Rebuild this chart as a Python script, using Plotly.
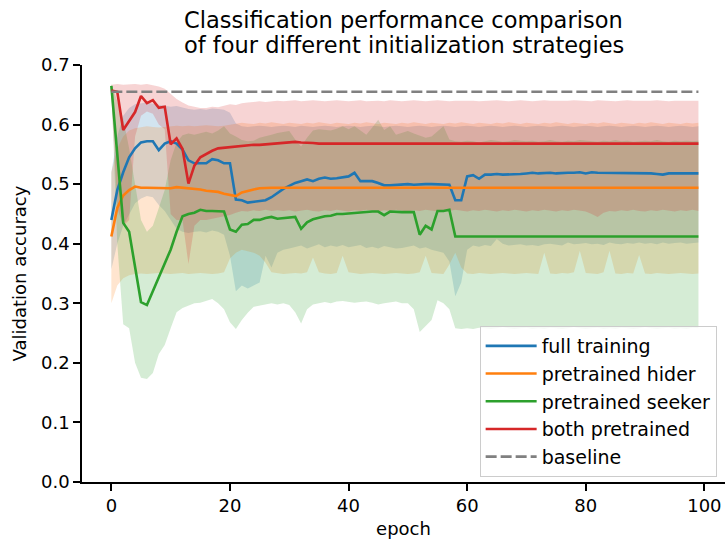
import plotly.graph_objects as go

# ---- data -----------------------------------------------------------------
epochs = list(range(100))

full_mean = [
    0.440, 0.490, 0.520, 0.545, 0.560, 0.570, 0.572, 0.572, 0.557, 0.568,
    0.572, 0.568, 0.558, 0.540, 0.535, 0.535, 0.535, 0.542, 0.540, 0.535,
    0.535, 0.474, 0.473, 0.469, 0.470, 0.471, 0.473, 0.478, 0.485, 0.492,
    0.497, 0.502, 0.505, 0.508, 0.505, 0.509, 0.511, 0.509, 0.510, 0.511,
    0.513, 0.519, 0.505, 0.505, 0.505, 0.502, 0.498, 0.498, 0.499, 0.499,
    0.500, 0.499, 0.500, 0.500, 0.500, 0.500, 0.500, 0.499, 0.473, 0.473,
    0.513, 0.515, 0.509, 0.516, 0.516, 0.517, 0.516, 0.516, 0.516, 0.517,
    0.518, 0.519, 0.518, 0.519, 0.519, 0.518, 0.519, 0.519, 0.519, 0.520,
    0.518, 0.520, 0.519, 0.519, 0.518, 0.518, 0.518, 0.519, 0.519, 0.518,
    0.518, 0.518, 0.517, 0.516, 0.518, 0.518, 0.518, 0.518, 0.518, 0.518,
]
full_hi = [
    0.520, 0.580, 0.615, 0.628, 0.634, 0.636, 0.637, 0.635, 0.633, 0.632,
    0.630, 0.631, 0.628, 0.626, 0.625, 0.626, 0.625, 0.627, 0.626, 0.625,
    0.620, 0.602, 0.597, 0.596, 0.597, 0.598, 0.597, 0.596, 0.597, 0.598,
    0.597, 0.596, 0.598, 0.597, 0.596, 0.597, 0.598, 0.597, 0.596, 0.597,
    0.598, 0.597, 0.596, 0.597, 0.598, 0.597, 0.596, 0.597, 0.598, 0.597,
    0.596, 0.597, 0.598, 0.597, 0.596, 0.597, 0.598, 0.597, 0.596, 0.597,
    0.598, 0.597, 0.596, 0.597, 0.598, 0.597, 0.596, 0.597, 0.598, 0.597,
    0.596, 0.597, 0.598, 0.597, 0.596, 0.597, 0.598, 0.597, 0.596, 0.597,
    0.598, 0.597, 0.596, 0.597, 0.598, 0.597, 0.596, 0.597, 0.598, 0.597,
    0.596, 0.597, 0.598, 0.597, 0.596, 0.597, 0.598, 0.597, 0.596, 0.597,
]
full_lo = [
    0.357, 0.400, 0.430, 0.450, 0.468, 0.476, 0.480, 0.478, 0.465, 0.455,
    0.440, 0.425, 0.420, 0.418, 0.420, 0.421, 0.419, 0.422, 0.420, 0.415,
    0.380, 0.320, 0.330, 0.325, 0.330, 0.335, 0.380, 0.360, 0.385, 0.390,
    0.392, 0.395, 0.397, 0.392, 0.396, 0.399, 0.394, 0.397, 0.395, 0.398,
    0.394, 0.396, 0.398, 0.393, 0.395, 0.392, 0.396, 0.394, 0.392, 0.393,
    0.395, 0.397, 0.392, 0.394, 0.390, 0.388, 0.385, 0.370, 0.312, 0.335,
    0.390, 0.397, 0.395, 0.398, 0.396, 0.408, 0.400, 0.397, 0.398, 0.399,
    0.397, 0.398, 0.396, 0.399, 0.400, 0.398, 0.397, 0.402, 0.399, 0.400,
    0.401, 0.399, 0.400, 0.398, 0.402, 0.400, 0.399, 0.401, 0.400, 0.402,
    0.400, 0.401, 0.399, 0.402, 0.400, 0.401, 0.402, 0.400, 0.401, 0.402,
]

hider_mean = [
    0.412, 0.460, 0.481, 0.490, 0.496, 0.494, 0.494, 0.494, 0.494, 0.494,
    0.493, 0.495, 0.494, 0.493, 0.493, 0.491, 0.489, 0.488, 0.487, 0.484,
    0.482, 0.480, 0.486, 0.489, 0.491, 0.493, 0.494, 0.494, 0.494, 0.494,
    0.494, 0.494, 0.494, 0.494, 0.494, 0.494, 0.494, 0.494, 0.494, 0.494,
    0.494, 0.494, 0.494, 0.494, 0.494, 0.494, 0.494, 0.494, 0.494, 0.494,
    0.494, 0.494, 0.494, 0.494, 0.494, 0.494, 0.494, 0.494, 0.494, 0.494,
    0.494, 0.494, 0.494, 0.494, 0.494, 0.494, 0.494, 0.494, 0.494, 0.494,
    0.494, 0.494, 0.494, 0.494, 0.494, 0.494, 0.494, 0.494, 0.494, 0.494,
    0.494, 0.494, 0.494, 0.494, 0.494, 0.494, 0.494, 0.494, 0.494, 0.494,
    0.494, 0.494, 0.494, 0.494, 0.494, 0.494, 0.494, 0.494, 0.494, 0.494,
]
hider_hi = [
    0.520, 0.560, 0.580, 0.590, 0.594, 0.596, 0.597, 0.596, 0.595, 0.596,
    0.597, 0.598, 0.597, 0.598, 0.597, 0.598, 0.599, 0.598, 0.597, 0.598,
    0.600, 0.602, 0.603, 0.602, 0.601, 0.603, 0.602, 0.604, 0.602, 0.601,
    0.603, 0.602, 0.601, 0.603, 0.602, 0.604, 0.602, 0.601, 0.603, 0.602,
    0.601, 0.603, 0.602, 0.604, 0.602, 0.601, 0.603, 0.602, 0.601, 0.603,
    0.602, 0.604, 0.602, 0.601, 0.603, 0.602, 0.601, 0.603, 0.602, 0.604,
    0.602, 0.601, 0.603, 0.602, 0.601, 0.603, 0.602, 0.604, 0.602, 0.601,
    0.603, 0.602, 0.601, 0.603, 0.602, 0.604, 0.602, 0.601, 0.603, 0.602,
    0.601, 0.603, 0.602, 0.604, 0.602, 0.601, 0.603, 0.602, 0.601, 0.603,
    0.602, 0.604, 0.602, 0.601, 0.603, 0.602, 0.601, 0.603, 0.602, 0.603,
]
hider_lo = [
    0.300, 0.330, 0.342, 0.347, 0.349, 0.350, 0.349, 0.350, 0.351, 0.350,
    0.349, 0.350, 0.351, 0.349, 0.350, 0.351, 0.350, 0.349, 0.350, 0.352,
    0.375, 0.385, 0.390, 0.388, 0.385, 0.380, 0.368, 0.352, 0.350, 0.349,
    0.350, 0.351, 0.350, 0.352, 0.377, 0.352, 0.350, 0.349, 0.351, 0.380,
    0.352, 0.350, 0.349, 0.350, 0.351, 0.350, 0.349, 0.350, 0.351, 0.350,
    0.349, 0.350, 0.352, 0.380, 0.351, 0.350, 0.349, 0.365, 0.385, 0.360,
    0.350, 0.349, 0.351, 0.350, 0.349, 0.350, 0.351, 0.350, 0.349, 0.350,
    0.351, 0.350, 0.349, 0.385, 0.350, 0.349, 0.351, 0.350, 0.352, 0.388,
    0.351, 0.350, 0.349, 0.352, 0.388, 0.350, 0.349, 0.351, 0.350, 0.381,
    0.350, 0.349, 0.351, 0.350, 0.349, 0.350, 0.351, 0.350, 0.349, 0.350,
]

seeker_mean = [
    0.665, 0.550, 0.435, 0.420, 0.360, 0.302, 0.297, 0.320, 0.344, 0.368,
    0.390, 0.420, 0.446, 0.450, 0.452, 0.457, 0.455, 0.455, 0.455, 0.454,
    0.424, 0.420, 0.432, 0.433, 0.440, 0.440, 0.443, 0.445, 0.442, 0.443,
    0.445, 0.445, 0.425, 0.436, 0.441, 0.444, 0.446, 0.447, 0.450, 0.450,
    0.451, 0.452, 0.453, 0.453, 0.454, 0.454, 0.448, 0.454, 0.453, 0.453,
    0.453, 0.453, 0.415, 0.430, 0.424, 0.455, 0.455, 0.457, 0.412, 0.412,
    0.412, 0.412, 0.412, 0.412, 0.411, 0.412, 0.412, 0.412, 0.412, 0.412,
    0.412, 0.412, 0.412, 0.412, 0.412, 0.412, 0.412, 0.412, 0.412, 0.412,
    0.412, 0.412, 0.412, 0.412, 0.412, 0.412, 0.412, 0.412, 0.412, 0.412,
    0.412, 0.412, 0.412, 0.412, 0.412, 0.412, 0.412, 0.412, 0.412, 0.412,
]
seeker_hi = [
    0.668, 0.640, 0.610, 0.560, 0.500, 0.440, 0.420, 0.430, 0.460, 0.490,
    0.540, 0.570, 0.582, 0.585, 0.583, 0.586, 0.588, 0.585, 0.590, 0.597,
    0.585, 0.580, 0.574, 0.572, 0.573, 0.578, 0.580, 0.583, 0.586, 0.588,
    0.589, 0.575, 0.563, 0.578, 0.590, 0.592, 0.591, 0.590, 0.593, 0.597,
    0.592, 0.597, 0.590, 0.583, 0.595, 0.608, 0.591, 0.597, 0.583, 0.586,
    0.589, 0.585, 0.581, 0.578, 0.580, 0.588, 0.597, 0.575, 0.572, 0.571,
    0.573, 0.572, 0.570, 0.572, 0.574, 0.573, 0.571, 0.572, 0.574, 0.573,
    0.572, 0.573, 0.571, 0.572, 0.574, 0.572, 0.571, 0.573, 0.572, 0.574,
    0.573, 0.572, 0.571, 0.573, 0.572, 0.574, 0.572, 0.573, 0.571, 0.572,
    0.573, 0.572, 0.574, 0.572, 0.571, 0.573, 0.572, 0.573, 0.572, 0.573,
]
seeker_lo = [
    0.662, 0.400, 0.265, 0.258, 0.200, 0.175, 0.173, 0.183, 0.215, 0.230,
    0.258, 0.285, 0.292, 0.296, 0.300, 0.301, 0.304, 0.307, 0.300, 0.290,
    0.268, 0.257, 0.272, 0.284, 0.294, 0.296, 0.298, 0.300, 0.298, 0.300,
    0.297, 0.285, 0.266, 0.290, 0.298, 0.300, 0.302, 0.300, 0.303, 0.304,
    0.303, 0.301, 0.302, 0.303, 0.301, 0.298, 0.300, 0.302, 0.303, 0.300,
    0.300, 0.290, 0.252, 0.262, 0.272, 0.305, 0.300, 0.290, 0.258, 0.257,
    0.258, 0.257, 0.259, 0.258, 0.257, 0.258, 0.260, 0.258, 0.257, 0.258,
    0.259, 0.257, 0.258, 0.257, 0.259, 0.258, 0.257, 0.258, 0.260, 0.258,
    0.257, 0.258, 0.259, 0.257, 0.258, 0.257, 0.259, 0.258, 0.257, 0.258,
    0.260, 0.258, 0.257, 0.258, 0.259, 0.257, 0.258, 0.257, 0.259, 0.258,
]

both_mean = [
    0.657, 0.655, 0.591, 0.605, 0.621, 0.648, 0.636, 0.641, 0.628, 0.630,
    0.567, 0.577, 0.559, 0.501, 0.531, 0.545, 0.551, 0.556, 0.560, 0.561,
    0.562, 0.563, 0.565, 0.565, 0.566, 0.566, 0.567, 0.568, 0.568, 0.569,
    0.571, 0.571, 0.570, 0.570, 0.569, 0.568, 0.568, 0.568, 0.568, 0.568,
    0.568, 0.568, 0.568, 0.568, 0.568, 0.568, 0.568, 0.568, 0.568, 0.568,
    0.568, 0.568, 0.568, 0.568, 0.568, 0.568, 0.568, 0.568, 0.568, 0.568,
    0.568, 0.568, 0.568, 0.568, 0.568, 0.568, 0.568, 0.568, 0.568, 0.568,
    0.568, 0.568, 0.568, 0.568, 0.568, 0.568, 0.568, 0.568, 0.568, 0.568,
    0.568, 0.568, 0.568, 0.568, 0.568, 0.568, 0.568, 0.568, 0.568, 0.568,
    0.568, 0.568, 0.568, 0.568, 0.568, 0.568, 0.568, 0.568, 0.568, 0.568,
]
both_hi = [
    0.667, 0.668, 0.667, 0.668, 0.668, 0.667, 0.668, 0.666, 0.664, 0.660,
    0.652, 0.643, 0.637, 0.632, 0.630, 0.628, 0.628, 0.630, 0.629, 0.632,
    0.634, 0.633, 0.636, 0.637, 0.638, 0.639, 0.638, 0.639, 0.640, 0.639,
    0.640, 0.641, 0.639, 0.640, 0.641, 0.640, 0.639, 0.640, 0.641, 0.640,
    0.639, 0.640, 0.641, 0.639, 0.640, 0.640, 0.639, 0.641, 0.640, 0.639,
    0.640, 0.641, 0.640, 0.639, 0.640, 0.641, 0.640, 0.639, 0.640, 0.640,
    0.641, 0.640, 0.639, 0.640, 0.640, 0.641, 0.640, 0.639, 0.640, 0.641,
    0.640, 0.639, 0.640, 0.641, 0.640, 0.640, 0.639, 0.640, 0.641, 0.640,
    0.640, 0.639, 0.641, 0.640, 0.640, 0.639, 0.640, 0.641, 0.640, 0.640,
    0.639, 0.640, 0.641, 0.640, 0.639, 0.640, 0.640, 0.641, 0.640, 0.640,
]
both_lo = [
    0.648, 0.460, 0.430, 0.440, 0.580, 0.615, 0.622, 0.618, 0.600, 0.592,
    0.450, 0.440, 0.440, 0.366, 0.430, 0.440, 0.440, 0.442, 0.443, 0.445,
    0.448, 0.452, 0.455, 0.454, 0.456, 0.455, 0.457, 0.455, 0.456, 0.455,
    0.456, 0.454, 0.455, 0.457, 0.455, 0.454, 0.456, 0.455, 0.457, 0.455,
    0.454, 0.456, 0.455, 0.457, 0.455, 0.454, 0.456, 0.455, 0.457, 0.455,
    0.454, 0.456, 0.455, 0.457, 0.455, 0.454, 0.456, 0.455, 0.457, 0.455,
    0.454, 0.456, 0.455, 0.457, 0.455, 0.454, 0.456, 0.455, 0.457, 0.455,
    0.454, 0.456, 0.455, 0.457, 0.455, 0.454, 0.456, 0.455, 0.457, 0.455,
    0.454, 0.450, 0.445, 0.452, 0.455, 0.454, 0.456, 0.455, 0.457, 0.455,
    0.454, 0.456, 0.455, 0.457, 0.455, 0.454, 0.456, 0.455, 0.457, 0.455,
]

baseline_value = 0.655

title_lines = [
    "Classification performance comparison",
    "of four different initialization strategies",
]

series = [
    ("full training", full_mean, full_lo, full_hi, (31, 119, 180)),
    ("pretrained hider", hider_mean, hider_lo, hider_hi, (255, 127, 14)),
    ("pretrained seeker", seeker_mean, seeker_lo, seeker_hi, (44, 160, 44)),
    ("both pretrained", both_mean, both_lo, both_hi, (214, 39, 40)),
]

FONT = "DejaVu Sans"

fig = go.Figure()

# spread bands first so all lines sit on top of them
for name, mean, lo, hi, rgb in series:
    fig.add_trace(go.Scatter(
        x=epochs, y=hi, mode="lines", line=dict(width=0),
        showlegend=False, hoverinfo="skip",
    ))
    fig.add_trace(go.Scatter(
        x=epochs, y=lo, mode="lines", line=dict(width=0),
        fill="tonexty", fillcolor="rgba(%d,%d,%d,0.2)" % rgb,
        showlegend=False, hoverinfo="skip",
    ))

for i, (name, mean, lo, hi, rgb) in enumerate(series):
    fig.add_trace(go.Scatter(
        x=epochs, y=mean, mode="lines", name=name,
        line=dict(color="rgb(%d,%d,%d)" % rgb, width=2.6),
    ))

fig.add_trace(go.Scatter(
    x=[epochs[0], epochs[-1]], y=[baseline_value, baseline_value],
    mode="lines", name="baseline",
    line=dict(color="#808080", width=2.6, dash="11px,4px"),
))

# two-line title, each line placed separately above the axes
for text, ypos in zip(title_lines, [1.1074, 1.0477]):
    fig.add_annotation(
        text=text, xref="paper", yref="paper", x=0.5, y=ypos,
        xanchor="center", yanchor="middle", showarrow=False,
        font=dict(family=FONT, size=22.5, color="black"),
    )

fig.update_layout(
    width=725, height=539,
    margin=dict(l=82, r=0, t=65, b=55),
    paper_bgcolor="white", plot_bgcolor="white",
    font=dict(family=FONT, color="black", size=18),
    legend=dict(
        x=0.987, y=0.012, xanchor="right", yanchor="bottom",
        bgcolor="rgba(255,255,255,0.8)", bordercolor="#cccccc", borderwidth=1,
        font=dict(family=FONT, size=19, color="black"),
        itemwidth=51, traceorder="normal",
    ),
    showlegend=True,
)

fig.update_xaxes(
    range=[-4.95, 103.48],
    tickvals=[0, 20, 40, 60, 80, 100],
    showgrid=False, zeroline=False,
    showline=True, linecolor="black", linewidth=1.6,
    ticks="outside", ticklen=7, tickwidth=1.6, tickcolor="black",
    tickfont=dict(family=FONT, size=18, color="black"),
    title=dict(text="epoch", standoff=10, font=dict(family=FONT, size=18, color="black")),
)
fig.update_yaxes(
    range=[0, 0.7],
    tickvals=[0.0, 0.1, 0.2, 0.3, 0.4, 0.5, 0.6, 0.7],
    tickformat=".1f",
    showgrid=False, zeroline=False,
    showline=True, linecolor="black", linewidth=1.6,
    ticks="outside", ticklen=7, tickwidth=1.6, tickcolor="black",
    tickfont=dict(family=FONT, size=18, color="black"),
    title=dict(text="Validation accuracy", standoff=10, font=dict(family=FONT, size=18, color="black")),
)

fig.write_html("out.html")
